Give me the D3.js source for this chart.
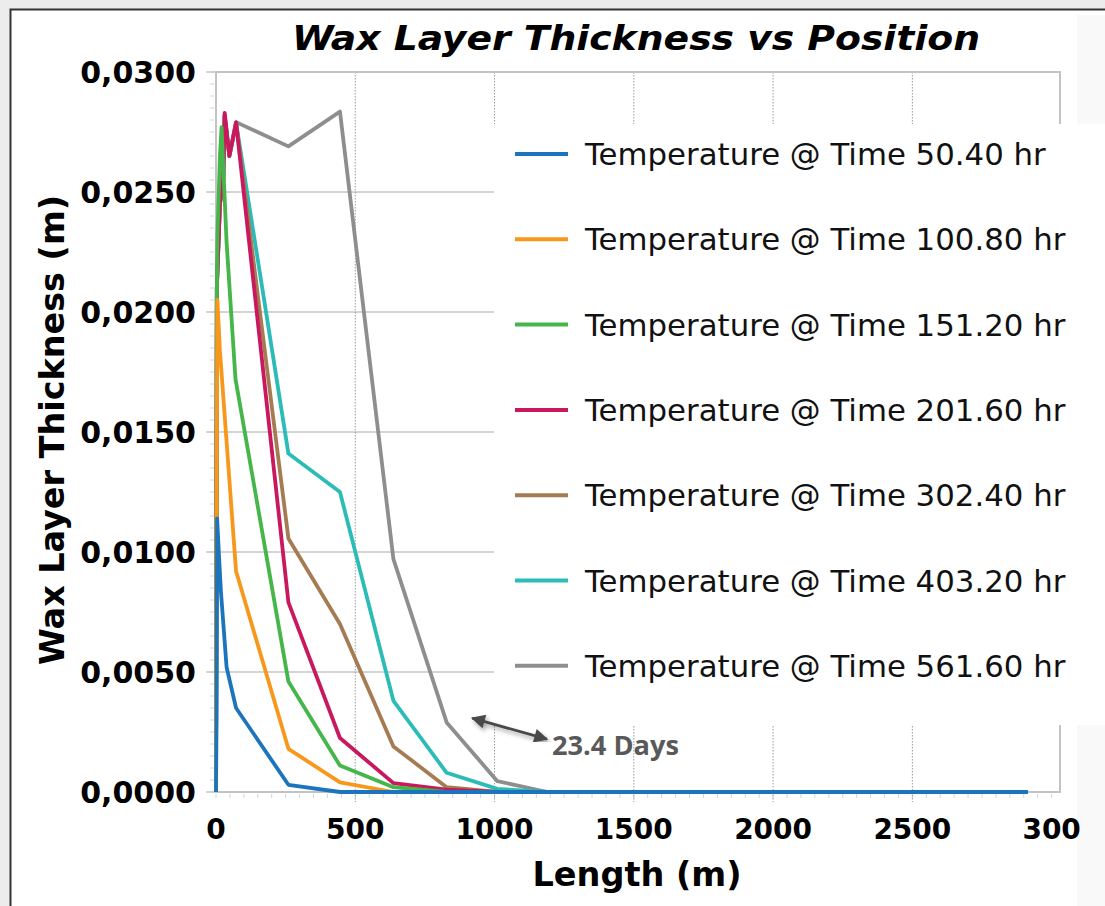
<!DOCTYPE html>
<html>
<head>
<meta charset="utf-8">
<script src="https://cdn.jsdelivr.net/npm/d3@7"></script>
<style>
  html, body { margin: 0; padding: 0; background: #ececec; }
  svg { display: block; }
</style>
</head>
<body>
<svg id="chart" width="1105" height="906"></svg>
<script>
// series: [length (m), wax thickness (m)]
const s050 = [[0,0],[2,0.0030],[4,0.0114],[10,0.0100],[18,0.0083],[38,0.0052],[72,0.0035],[260,0.0003],[445,0],[2915,0]];
const s100 = [[0,0],[2,0.0110],[5,0.0205],[14,0.0184],[72,0.0092],[260,0.0018],[445,0.0004],[637,0],[2915,0]];
const s151 = [[0,0],[3,0.0205],[5,0.0231],[14,0.0265],[20,0.0277],[38,0.0229],[70,0.0172],[260,0.0046],[445,0.0011],[637,0.0002],[828,0],[2915,0]];
const s201 = [[0,0],[3,0.0210],[14,0.0245],[26,0.0255],[31,0.0283],[48,0.0265],[72,0.0279],[260,0.0079],[445,0.00225],[637,0.00037],[828,0.0001],[1010,0],[2915,0]];
const s302 = [[0,0],[3,0.0210],[14,0.0245],[26,0.0255],[31,0.0282],[48,0.0265],[72,0.0279],[260,0.01056],[445,0.0070],[637,0.0019],[828,0.0002],[1010,0],[2915,0]];
const s403 = [[0,0],[3,0.0210],[14,0.0245],[26,0.0255],[31,0.0282],[48,0.0265],[72,0.0279],[260,0.0141],[445,0.0125],[637,0.0038],[828,0.0008],[1010,0.00013],[1190,0],[2915,0]];
const s561 = [[0,0],[3,0.0210],[14,0.0245],[26,0.0255],[31,0.0282],[48,0.0265],[74,0.0279],[260,0.0269],[445,0.02835],[637,0.0097],[828,0.0029],[1010,0.00045],[1190,0],[2915,0]];

const seriesNames = ["Temperature @ Time 50.40 hr", "Temperature @ Time 100.80 hr", "Temperature @ Time 151.20 hr",
  "Temperature @ Time 201.60 hr", "Temperature @ Time 302.40 hr", "Temperature @ Time 403.20 hr", "Temperature @ Time 561.60 hr"];
const seriesData = [s050, s100, s151, s201, s302, s403, s561];
const seriesColors = ["#1c75bc", "#f7981d", "#45b649", "#c9185d", "#a57b52", "#2bbcb8", "#8e8e8e"];

const xTicks = [0, 500, 1000, 1500, 2000, 2500, 3000];
const xTickLabels = ["0", "500", "1000", "1500", "2000", "2500", "300"];
const yTicks = [0, 0.005, 0.01, 0.015, 0.02, 0.025, 0.03];

const svg = d3.select("#chart");

const x = d3.scaleLinear().domain([0, 3030]).range([216, 1060]);
const y = d3.scaleLinear().domain([0, 0.03]).range([792, 72]);

// page frame
svg.append("rect").attr("x", 10).attr("y", 9).attr("width", 1095).attr("height", 897).attr("fill", "#fff");
svg.append("rect").attr("x", 1077).attr("y", 15).attr("width", 28).attr("height", 891).attr("fill", "#f9f9f9");
svg.append("path").attr("d", "M10.5,906V9.5H1105").attr("fill", "none").attr("stroke", "#333").attr("stroke-width", 2);

// title
svg.append("text")
  .attr("x", 636).attr("y", 50)
  .attr("text-anchor", "middle")
  .attr("font-family", "DejaVu Sans Condensed, DejaVu Sans")
  .attr("font-weight", "bold").attr("font-style", "italic")
  .attr("font-size", 34)
  .attr("textLength", 688).attr("lengthAdjust", "spacingAndGlyphs")
  .text("Wax Layer Thickness vs Position");

// minor ticks
svg.append("g").selectAll("line")
  .data(d3.range(0, 0.03001, 0.0005))
  .join("line")
  .attr("x1", x(0) - 6).attr("x2", x(0) - 2)
  .attr("y1", d => y(d)).attr("y2", d => y(d))
  .attr("stroke", "#c9d6ea").attr("stroke-width", 1);
svg.append("g").selectAll("line")
  .data(d3.range(0, 3030, 50))
  .join("line")
  .attr("x1", d => x(d)).attr("x2", d => x(d))
  .attr("y1", y(0) + 2).attr("y2", y(0) + 6)
  .attr("stroke", "#c9d6ea").attr("stroke-width", 1);

// horizontal gridlines
svg.append("g").selectAll("line")
  .data(yTicks)
  .join("line")
  .attr("x1", x(0) - 10).attr("x2", x.range()[1])
  .attr("y1", d => y(d)).attr("y2", d => y(d))
  .attr("stroke", "#c6c6c6").attr("stroke-width", 1.5);

// vertical dotted gridlines
svg.append("g").selectAll("line")
  .data(xTicks.filter(d => d > 0 && d < 3000))
  .join("line")
  .attr("x1", d => x(d)).attr("x2", d => x(d))
  .attr("y1", y(0.03)).attr("y2", y(0) + 10)
  .attr("stroke", "#9a9a9a").attr("stroke-width", 1)
  .attr("stroke-dasharray", "1.5,1.5");

// plot frame
svg.append("rect")
  .attr("x", x(0)).attr("y", y(0.03))
  .attr("width", x.range()[1] - x(0)).attr("height", y(0) - y(0.03))
  .attr("fill", "none").attr("stroke", "#c3c3c3").attr("stroke-width", 2);

// lines, last series underneath
const line = d3.line().x(d => x(d[0])).y(d => y(d[1]));
svg.append("g").selectAll("path")
  .data(d3.range(seriesData.length).reverse())
  .join("path")
  .attr("fill", "none")
  .attr("stroke", i => seriesColors[i])
  .attr("stroke-width", 3.8)
  .attr("stroke-linejoin", "round")
  .attr("d", i => line(seriesData[i]));

// tick labels
svg.append("g").selectAll("text")
  .data(yTicks)
  .join("text")
  .attr("x", 196).attr("y", d => y(d) + 11)
  .attr("text-anchor", "end")
  .attr("font-family", "DejaVu Sans").attr("font-weight", "bold").attr("font-size", 30)
  .text(d => d3.format(".4f")(d).replace(".", ","));

svg.append("g").selectAll("text")
  .data(xTicks)
  .join("text")
  .attr("x", d => x(d)).attr("y", 839)
  .attr("text-anchor", "middle")
  .attr("font-family", "DejaVu Sans").attr("font-weight", "bold").attr("font-size", 28)
  .text((d, i) => xTickLabels[i]);

// axis titles
svg.append("text")
  .attr("transform", "translate(64,430) rotate(-90)")
  .attr("text-anchor", "middle")
  .attr("font-family", "DejaVu Sans Condensed, DejaVu Sans").attr("font-weight", "bold").attr("font-size", 33)
  .attr("textLength", 470).attr("lengthAdjust", "spacingAndGlyphs")
  .text("Wax Layer Thickness (m)");

svg.append("text")
  .attr("x", 637).attr("y", 886)
  .attr("text-anchor", "middle")
  .attr("font-family", "DejaVu Sans Condensed, DejaVu Sans").attr("font-weight", "bold").attr("font-size", 33)
  .attr("textLength", 209).attr("lengthAdjust", "spacingAndGlyphs")
  .text("Length (m)");

// legend
const legend = svg.append("g");
legend.append("rect")
  .attr("x", 494).attr("y", 124).attr("width", 611).attr("height", 601)
  .attr("fill", "#fff");
const items = legend.selectAll("g.item")
  .data(seriesNames)
  .join("g")
  .attr("class", "item")
  .attr("transform", (d, i) => `translate(0,${154 + i * 85.3})`);
items.append("line")
  .attr("x1", 515).attr("x2", 568)
  .attr("stroke", (d, i) => seriesColors[i])
  .attr("stroke-width", 4);
items.append("text")
  .attr("x", 585).attr("y", 11)
  .attr("font-family", "DejaVu Sans").attr("font-size", 30.8)
  .attr("fill", "#111")
  .text(d => d);

// annotation
const defs = svg.append("defs");
defs.append("filter").attr("id", "shadow")
  .append("feDropShadow")
  .attr("dx", 2).attr("dy", 3).attr("stdDeviation", 2)
  .attr("flood-color", "#000").attr("flood-opacity", 0.35);
["start", "end"].forEach(k => {
  defs.append("marker")
    .attr("id", "arr-" + k)
    .attr("viewBox", "0 0 10 10")
    .attr("refX", k === "end" ? 9 : 1).attr("refY", 5)
    .attr("markerWidth", 5.5).attr("markerHeight", 5)
    .attr("markerUnits", "strokeWidth")
    .attr("orient", "auto")
    .append("path")
    .attr("d", k === "end" ? "M0,0L10,5L0,10Z" : "M10,0L0,5L10,10Z")
    .attr("fill", "#4a4a4a");
});
svg.append("line")
  .attr("x1", x(920)).attr("y1", y(0.00308))
  .attr("x2", x(1188)).attr("y2", y(0.0022))
  .attr("stroke", "#4a4a4a").attr("stroke-width", 2.8)
  .attr("marker-start", "url(#arr-start)").attr("marker-end", "url(#arr-end)")
  .attr("filter", "url(#shadow)");
svg.append("text")
  .attr("x", x(1206)).attr("y", 755)
  .attr("font-family", "Open Sans, Lato").attr("font-weight", "bold").attr("font-size", 26)
  .attr("fill", "#595959")
  .attr("textLength", 127).attr("lengthAdjust", "spacingAndGlyphs")
  .text("23.4 Days");
</script>
</body>
</html>
